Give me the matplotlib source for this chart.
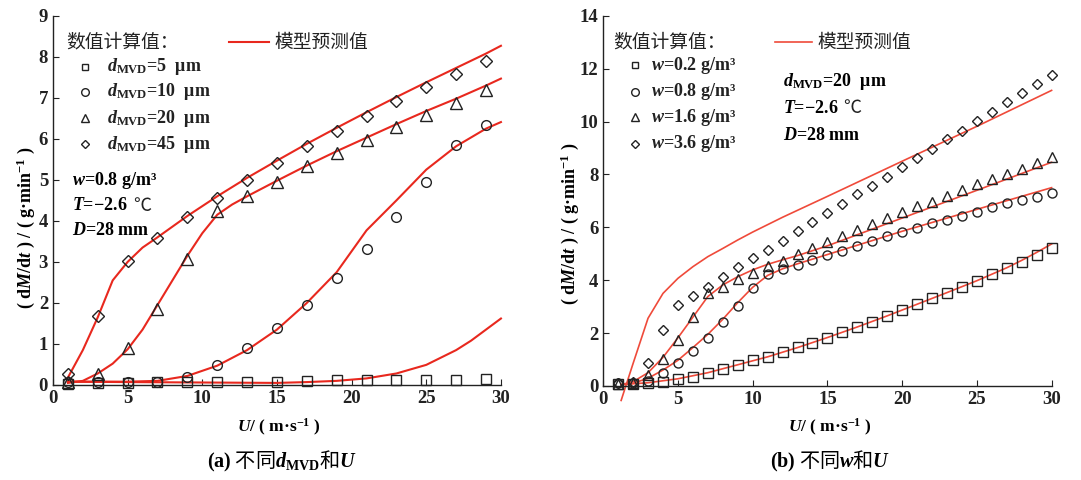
import matplotlib
matplotlib.use("Agg")
import matplotlib.pyplot as plt

SERIF = "Liberation Serif"
CJK = "Noto Sans CJK SC"
INK = "#222222"
RED_A = "#e8281e"
RED_B = "#ef4a3a"

plt.rcParams.update({
    "font.family": [SERIF, CJK],
    "font.size": 13,
    "font.weight": "bold",
    "mathtext.fontset": "custom",
    "mathtext.rm": "Liberation Serif:bold",
    "mathtext.bf": "Liberation Serif:bold",
    "mathtext.it": "Liberation Serif:italic:bold",
    "axes.edgecolor": INK,
    "axes.linewidth": 1.0,
    "axes.spines.top": False,
    "axes.spines.right": False,
    "xtick.color": INK,
    "ytick.color": INK,
    "xtick.direction": "in",
    "ytick.direction": "in",
    "xtick.major.size": 4,
    "ytick.major.size": 4,
    "xtick.labelsize": 13.5,
    "ytick.labelsize": 13.5,
})

# ---- (a) different d_MVD, w = 0.8 g/m3 ----
U_a = [1, 3, 5, 7, 9, 11, 13, 15, 17, 19, 21, 23, 25, 27, 29]
num_d5 = [0.03, 0.05, 0.05, 0.06, 0.06, 0.08, 0.08, 0.08, 0.10, 0.11, 0.12, 0.12, 0.12, 0.13, 0.14]
num_d10 = [0.07, 0.06, 0.06, 0.08, 0.20, 0.49, 0.89, 1.38, 1.95, 2.60, 3.31, 4.10, 4.95, 5.86, 6.35]
num_d20 = [0.08, 0.27, 0.89, 1.85, 3.06, 4.24, 4.60, 4.96, 5.33, 5.65, 5.98, 6.28, 6.59, 6.88, 7.18]
num_d45 = [0.27, 1.68, 3.02, 3.58, 4.10, 4.57, 5.00, 5.42, 5.82, 6.20, 6.57, 6.92, 7.26, 7.58, 7.89]

mdl_d5_U = [1, 5, 10, 15, 17, 19, 21, 23, 25, 27, 28, 29, 30]
mdl_d5 = [0.08, 0.07, 0.06, 0.05, 0.07, 0.10, 0.16, 0.28, 0.49, 0.85, 1.08, 1.35, 1.62]
mdl_d10_U = [1, 3, 5, 7, 9, 11, 13, 15, 17, 19, 21, 23, 25, 27, 29, 30]
mdl_d10 = [0.08, 0.08, 0.08, 0.10, 0.22, 0.47, 0.85, 1.35, 2.00, 2.75, 3.77, 4.50, 5.25, 5.82, 6.25, 6.41]
mdl_d20_U = [1, 2, 3, 4, 5, 6, 7, 8, 9, 10, 11, 12, 13, 15, 17, 19, 21, 23, 25, 27, 29, 30]
mdl_d20 = [0.05, 0.10, 0.28, 0.52, 0.87, 1.35, 1.95, 2.55, 3.15, 3.70, 4.15, 4.40, 4.60,
           4.98, 5.35, 5.70, 6.03, 6.36, 6.68, 6.98, 7.30, 7.47]
mdl_d45_U = [1, 2, 3, 4, 5, 6, 7, 9, 11, 13, 15, 17, 19, 21, 23, 25, 27, 29, 30]
mdl_d45 = [0.18, 0.85, 1.65, 2.55, 3.00, 3.35, 3.60, 4.12, 4.60, 5.05, 5.47, 5.88, 6.27,
           6.65, 7.02, 7.38, 7.73, 8.08, 8.27]

labels_a = [r"$d_{\mathrm{MVD}}$=5  μm", r"$d_{\mathrm{MVD}}$=10  μm",
            r"$d_{\mathrm{MVD}}$=20  μm", r"$d_{\mathrm{MVD}}$=45  μm"]

# ---- (b) different w, d_MVD = 20 um ----
U_b = list(range(1, 31))
num_w02 = [0.08, 0.08, 0.10, 0.16, 0.25, 0.35, 0.48, 0.63, 0.79, 0.98, 1.08, 1.27, 1.46, 1.64, 1.83,
           2.03, 2.23, 2.43, 2.65, 2.86, 3.09, 3.31, 3.53, 3.76, 3.98, 4.22, 4.45, 4.70, 4.95, 5.20]
num_w08 = [0.10, 0.10, 0.20, 0.50, 0.88, 1.32, 1.83, 2.41, 3.04, 3.72, 4.23, 4.41, 4.57, 4.76, 4.95,
           5.12, 5.29, 5.50, 5.66, 5.82, 5.99, 6.15, 6.28, 6.43, 6.59, 6.75, 6.91, 7.03, 7.16, 7.31]
num_w16 = [0.08, 0.12, 0.42, 1.01, 1.74, 2.60, 3.50, 3.76, 4.03, 4.28, 4.54, 4.74, 4.99, 5.20, 5.45,
           5.66, 5.88, 6.12, 6.34, 6.58, 6.81, 6.97, 7.18, 7.41, 7.64, 7.81, 8.01, 8.20, 8.42, 8.65]
num_w36 = [0.10, 0.13, 0.88, 2.12, 3.05, 3.40, 3.76, 4.11, 4.49, 4.83, 5.14, 5.50, 5.85, 6.20, 6.54,
           6.90, 7.25, 7.58, 7.92, 8.28, 8.63, 8.98, 9.33, 9.66, 10.02, 10.36, 10.73, 11.08, 11.43, 11.78]

mdl_w02_U = [1.2, 3, 5, 7, 9, 11, 13, 15, 17, 19, 21, 23, 25, 27, 28, 29, 30]
mdl_w02 = [0.05, 0.12, 0.27, 0.50, 0.80, 1.10, 1.45, 1.83, 2.23, 2.65, 3.09, 3.53, 3.98, 4.47,
           4.75, 5.05, 5.37]
mdl_w08_U = [1.2, 2, 3, 4, 5, 6, 7, 8, 9, 10, 11, 12, 13, 15, 20, 25, 30]
mdl_w08 = [0.05, 0.10, 0.29, 0.60, 0.97, 1.45, 1.95, 2.52, 3.15, 3.73, 4.18, 4.43, 4.62, 4.97,
           5.85, 6.68, 7.50]
mdl_w16_U = [1.2, 2, 3, 4, 5, 6, 7, 8, 9, 10, 11, 12, 13, 15, 20, 25, 30]
mdl_w16 = [0.05, 0.16, 0.50, 1.08, 1.82, 2.60, 3.38, 3.82, 4.13, 4.39, 4.60, 4.77, 4.93, 5.30,
           6.35, 7.40, 8.46]
mdl_w36_U = [1.2, 2, 3, 4, 5, 6, 7, 8, 9, 10, 12, 15, 20, 25, 30]
mdl_w36 = [-0.55, 0.85, 2.56, 3.50, 4.07, 4.51, 4.89, 5.20, 5.52, 5.82, 6.38, 7.17, 8.50, 9.82, 11.18]

labels_b = [r"$w$=0.2 g/m³", r"$w$=0.8 g/m³", r"$w$=1.6 g/m³", r"$w$=3.6 g/m³"]

MARKERS = ["s", "o", "^", "D"]


def scatter_open(ax, x, y, m, ms):
    ax.plot(x, y, ls="none", marker=m, ms=ms, mfc="none", mec=INK, mew=1.0, clip_on=False, zorder=3)


def legend_block(ax, x_head, x_line, x_mark, x_txt, y_head, rows_y, labels, color, lw):
    ax.text(x_head, y_head, "数值计算值：", transform=ax.transAxes, family=CJK, fontsize=13.5,
            weight="normal", va="center", ha="left", color=INK)
    ax.plot(x_line, [y_head, y_head], transform=ax.transAxes, color=color, lw=lw, clip_on=False)
    ax.text(x_line[1] + 0.012, y_head, "模型预测值", transform=ax.transAxes, family=CJK,
            fontsize=13.5, weight="normal", va="center", ha="left", color=INK)
    for m, yy, lab in zip(MARKERS, rows_y, labels):
        ms = {"s": 5, "o": 5.5, "^": 6, "D": 4.5}[m]
        ax.plot([x_mark], [yy], transform=ax.transAxes, ls="none", marker=m,
                ms=ms, mfc="none", mec=INK, mew=1.0, clip_on=False)
        ax.text(x_txt, yy, lab, transform=ax.transAxes, fontsize=13, va="center", ha="left",
                color=INK)


def conditions(ax, x, ys, first):
    ax.text(x, ys[0], first, transform=ax.transAxes, fontsize=13, va="center")
    t = ax.text(x, ys[1], r"$T$=−2.6", transform=ax.transAxes, fontsize=13, va="center")
    # Liberation Serif has no ℃ glyph, so it is set after the number in the CJK face
    ax.annotate("℃", xy=(1.0, 0.5), xycoords=t, xytext=(4, 0), textcoords="offset points",
                family=CJK, weight="normal", fontsize=13, va="center", ha="left", color=INK)
    ax.text(x, ys[2], r"$D$=28 mm", transform=ax.transAxes, fontsize=13, va="center")


fig = plt.figure(figsize=(10.81, 4.8), dpi=100)
axa = fig.add_axes([0.049, 0.198, 0.4144, 0.769])
axb = fig.add_axes([0.558, 0.196, 0.4148, 0.771])

MS = {"s": 7.0, "o": 7.0, "^": 8.0, "D": 6.0}

# panel (a)
for u, v in [(mdl_d5_U, mdl_d5), (mdl_d10_U, mdl_d10), (mdl_d20_U, mdl_d20), (mdl_d45_U, mdl_d45)]:
    axa.plot(u, v, color=RED_A, lw=1.5, zorder=2, clip_on=False)
for m, v in zip(MARKERS, [num_d5, num_d10, num_d20, num_d45]):
    scatter_open(axa, U_a, v, m, MS[m])
axa.set_xlim(0, 30)
axa.set_ylim(0, 9)
axa.set_xticks(range(0, 31, 5))
axa.set_yticks(range(0, 10))

legend_block(axa, 0.030, [0.392, 0.482], 0.071, 0.120, 0.929,
             [0.862, 0.794, 0.722, 0.652], labels_a, RED_A, 1.5)
conditions(axa, 0.042, [0.553, 0.486, 0.418], r"$w$=0.8 g/m³")

axa.text(-0.060, 0.425, r"( d$M$/d$t$ ) / ( g·min$^{-1}$ )", transform=axa.transAxes,
         rotation=90, ha="center", va="center", fontsize=13)
axa.text(0.505, -0.116, r"$U$/ ( m·s$^{-1}$ )", transform=axa.transAxes,
         ha="center", va="center", fontsize=12.5)
axa.text(0.512, -0.206, r"$\mathrm{(a)}$ 不同$d_{\mathrm{MVD}}$和$U$", transform=axa.transAxes,
         family=CJK, weight="normal", ha="center", va="center", fontsize=14.5)

# panel (b)
for u, v in [(mdl_w02_U, mdl_w02), (mdl_w08_U, mdl_w08), (mdl_w16_U, mdl_w16), (mdl_w36_U, mdl_w36)]:
    axb.plot(u, v, color=RED_B, lw=1.2, zorder=2, clip_on=False)
for m, v in zip(MARKERS, [num_w02, num_w08, num_w16, num_w36]):
    scatter_open(axb, U_b, v, m, MS[m] - 0.5)
axb.set_xlim(0, 30)
axb.set_ylim(0, 14)
axb.set_xticks(range(0, 31, 5))
axb.set_yticks(range(0, 15, 2))

legend_block(axb, 0.022, [0.383, 0.465], 0.071, 0.106, 0.929,
             [0.867, 0.795, 0.726, 0.654], labels_b, RED_B, 1.2)
conditions(axb, 0.400, [0.822, 0.750, 0.678], r"$d_{\mathrm{MVD}}$=20  μm")

axb.text(-0.074, 0.437, r"( d$M$/d$t$ ) / ( g·min$^{-1}$ )", transform=axb.transAxes,
         rotation=90, ha="center", va="center", fontsize=13)
axb.text(0.506, -0.113, r"$U$/ ( m·s$^{-1}$ )", transform=axb.transAxes,
         ha="center", va="center", fontsize=12.5)
axb.text(0.506, -0.204, r"$\mathrm{(b)}$ 不同$w$和$U$", transform=axb.transAxes,
         family=CJK, weight="normal", ha="center", va="center", fontsize=14.5)

fig.savefig("out.png", dpi=100)
